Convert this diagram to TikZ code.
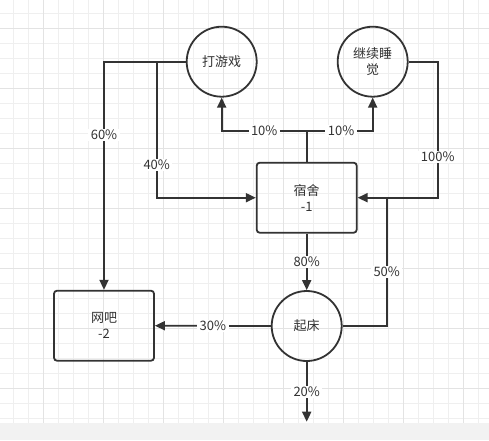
\documentclass[tikz,border=0pt]{standalone}
\usepackage{fontspec}
\setmainfont{Noto Sans CJK SC}
\usetikzlibrary{arrows.meta}
\definecolor{ink}{HTML}{333333}
\definecolor{gridminor}{HTML}{EFEFEF}
\definecolor{gridmajor}{HTML}{E3E3E3}
\definecolor{strip}{HTML}{F2F2F2}

\begin{document}
\begin{tikzpicture}[x=1pt,y=-1pt,>={Triangle[length=10pt,width=9pt]},line width=1.8pt,color=ink,
  every node/.style={font=\fontsize{13}{16}\selectfont},
  state/.style={draw,circle,minimum size=70pt,inner sep=0pt,align=center},
  room/.style={draw,rounded corners=3pt,minimum width=100pt,minimum height=70pt,align=center},
  lbl/.style={fill=white,inner xsep=2.5pt,inner ysep=1pt},
  link/.style={->}]
\useasboundingbox (0,0) rectangle (489,440);
% background grid
\fill[white] (0,0) rectangle (489,423);
\fill[strip] (0,423) rectangle (489,440);
\foreach \k in {0,...,31} {\draw[gridminor,line width=1pt] (13.3+15*\k,0) -- (13.3+15*\k,423);}
\foreach \k in {0,...,27} {\draw[gridminor,line width=1pt] (0,13.3+15*\k) -- (489,13.3+15*\k);}
\foreach \k in {0,...,7} {\draw[gridmajor,line width=1pt] (43.3+60*\k,0) -- (43.3+60*\k,423);}
\foreach \k in {0,...,6} {\draw[gridmajor,line width=1pt] (0,28.3+60*\k) -- (489,28.3+60*\k);}

\node[state] (game) at (221.7,61.7) {打游戏};
\node[state] (sleep) at (372.7,61.7) {继续睡\\觉};
\node[room] (dorm) at (306.7,197.7) {宿舍\\-1};
\node[room] (cafe) at (104,325.7) {网吧\\-2};
\node[state] (getup) at (306.7,326) {起床};

\coordinate (fork) at (156.7,61.7);
\coordinate (up) at (306.7,130.7);
\coordinate (back) at (437.7,197.7);
\coordinate (join) at (386.7,197.7);
\coordinate (exit) at (306.7,421.7);

\draw[link] (game.west) -| node[lbl,pos=0.66]{60\%} (cafe.north);
\draw[link] (fork) |- node[lbl,pos=0.38]{40\%} (dorm.west);
\draw (dorm.north) -- (up);
\draw[link] (up) -| node[lbl,pos=0.25]{10\%} (game.south);
\draw[link] (up) -| node[lbl,pos=0.26]{10\%} (sleep.south);
\draw[link] (sleep.east) -| node[lbl,pos=0.85]{100\%} (back) -- (dorm.east);
\draw[link] (dorm.south) -- node[lbl]{80\%} (getup.north);
\draw (getup.east) -| node[lbl,pos=0.71]{50\%} (join);
\draw[link] (getup.west) -- node[lbl]{30\%} (cafe.east);
\draw[link] (getup.south) -- node[lbl]{20\%} (exit);
\end{tikzpicture}
\end{document}
